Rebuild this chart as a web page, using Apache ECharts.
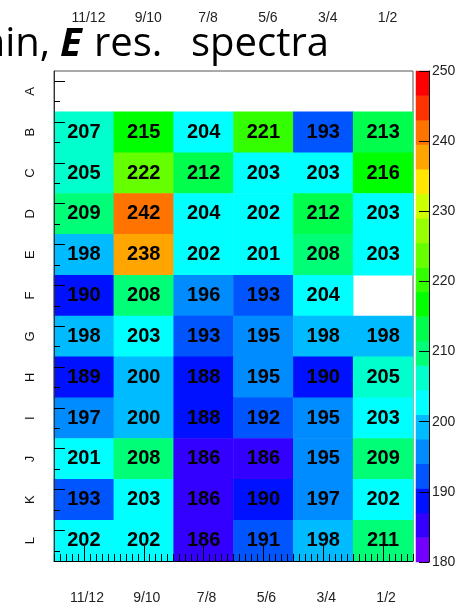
<!DOCTYPE html>
<html>
<head>
<meta charset="utf-8">
<script src="https://cdn.jsdelivr.net/npm/echarts@6/dist/echarts.min.js"></script>
<style>
html, body { margin: 0; padding: 0; background: #fff; }
#chart { width: 462px; height: 605px; }
</style>
</head>
<body>
<div id="chart"></div>
<script>
// Column and row labels of the map
const columns = ['11/12', '9/10', '7/8', '5/6', '3/4', '1/2'];
const rows = ['A', 'B', 'C', 'D', 'E', 'F', 'G', 'H', 'I', 'J', 'K', 'L'];

// Values per row, left to right (null = no entry)
const rowA = [null, null, null, null, null, null];
const rowB = [207, 215, 204, 221, 193, 213];
const rowC = [205, 222, 212, 203, 203, 216];
const rowD = [209, 242, 204, 202, 212, 203];
const rowE = [198, 238, 202, 201, 208, 203];
const rowF = [190, 208, 196, 193, 204, null];
const rowG = [198, 203, 193, 195, 198, 198];
const rowH = [189, 200, 188, 195, 190, 205];
const rowI = [197, 200, 188, 192, 195, 203];
const rowJ = [201, 208, 186, 186, 195, 209];
const rowK = [193, 203, 186, 190, 197, 202];
const rowL = [202, 202, 186, 191, 198, 211];

// Colour scale: 20 contour bands between 180 and 250
const zMin = 180;
const zMax = 250;
const zStep = 3.5;
const zTickStep = 10;
const palette = [
  '#7300ff', '#3300ff', '#0011ff', '#0055ff', '#008cff',
  '#00bbff', '#00ffff', '#00ffcc', '#00ff77', '#00ff4c',
  '#00ff00', '#33ff00', '#66ff00', '#99ff00', '#ccff00',
  '#ffe500', '#ffa500', '#ff7300', '#ff3300', '#ff0000'
];

// Tick positions of the frame (in axis units)
const yTickLong = [0.75, 1.75, 2.75, 3.75, 4.75, 5.75, 6.75, 7.75, 8.75, 9.75, 10.75, 11.75];
const yTickShort = [0.25, 1.25, 2.25, 3.25, 4.25, 5.25, 6.25, 7.25, 8.25, 9.25, 10.25, 11.25];

// Heading pieces, each with its own left edge
const headingParts = [
  { text: 'ain,', x: -17, bold: false },
  { text: 'E', x: 60, bold: true },
  { text: 'res.', x: 94, bold: false },
  { text: 'spectra', x: 191, bold: false }
];

const table = [rowA, rowB, rowC, rowD, rowE, rowF, rowG, rowH, rowI, rowJ, rowK, rowL];
const cells = [];
table.forEach((vals, r) => {
  vals.forEach((v, c) => {
    if (v !== null) cells.push([c, r, v]);
  });
});

const pieces = palette.map((color, i) => {
  const lo = zMin + i * zStep;
  const hi = lo + zStep;
  return i === palette.length - 1 ? { gte: lo, lte: hi, color } : { gte: lo, lt: hi, color };
});
const bandNames = palette.map((_, i) => 'b' + i);
const bandCells = palette.map((_, i) => [0, i, zMin + (i + 0.5) * zStep]);

const FONT = 'Liberation Sans';
const chart = echarts.init(document.getElementById('chart'), null, { renderer: 'canvas' });

chart.setOption({
  animation: false,
  backgroundColor: '#fff',
  graphic: headingParts.map(p => ({
    type: 'text',
    x: p.x,
    y: 45,
    z: 10,
    style: {
      text: p.text,
      fontFamily: 'Open Sans',
      fontSize: 40,
      fontWeight: p.bold ? 'bold' : 'normal',
      fontStyle: p.bold ? 'italic' : 'normal',
      fill: '#000',
      verticalAlign: 'middle'
    }
  })),
  grid: [
    { left: 54, top: 71, width: 359, height: 491, show: true, borderColor: '#555', borderWidth: 1, backgroundColor: '#fff' },
    { left: 416, top: 71, width: 13, height: 491 }
  ],
  xAxis: [
    {
      gridIndex: 0, type: 'category', data: columns, position: 'bottom', z: 5,
      axisLine: { show: true, lineStyle: { color: '#000', width: 1 } },
      axisTick: { show: true, inside: true, alignWithLabel: true, length: 15, lineStyle: { color: '#000' } },
      axisLabel: { margin: 30, fontSize: 14, color: '#222', fontFamily: FONT, padding: [0, 0, 0, 6] },
      splitLine: { show: false }
    },
    {
      gridIndex: 0, type: 'category', data: columns, position: 'top',
      axisLine: { show: false }, axisTick: { show: false },
      axisLabel: { margin: 46, fontSize: 14, color: '#222', fontFamily: FONT, padding: [0, 0, 0, 9] },
      splitLine: { show: false }
    },
    {
      gridIndex: 0, type: 'value', min: 0, max: 6, interval: 0.1, position: 'bottom', z: 5,
      axisLine: { show: false },
      axisTick: { show: true, inside: true, length: 7, lineStyle: { color: '#000' } },
      axisLabel: { show: false }, splitLine: { show: false }
    },
    { gridIndex: 1, type: 'category', data: ['z'], show: false }
  ],
  yAxis: [
    {
      gridIndex: 0, type: 'category', data: rows, inverse: true, position: 'left', z: 5,
      axisLine: { show: true, lineStyle: { color: '#333', width: 1 } },
      axisTick: { show: false },
      axisLabel: { rotate: 90, margin: 17, fontSize: 13, color: '#111', fontFamily: FONT },
      splitLine: { show: false }
    },
    {
      gridIndex: 0, type: 'value', min: 0, max: 12, position: 'left', z: 5,
      axisLine: { show: false }, axisLabel: { show: false }, splitLine: { show: false },
      axisTick: { show: true, inside: true, length: 11, customValues: yTickLong, lineStyle: { color: '#000' } }
    },
    {
      gridIndex: 0, type: 'value', min: 0, max: 12, position: 'left', z: 5,
      axisLine: { show: false }, axisLabel: { show: false }, splitLine: { show: false },
      axisTick: { show: true, inside: true, length: 6, customValues: yTickShort, lineStyle: { color: '#000' } }
    },
    { gridIndex: 1, type: 'category', data: bandNames, show: false },
    {
      gridIndex: 1, type: 'value', min: zMin, max: zMax, interval: zTickStep, position: 'right', z: 5,
      axisLine: { show: true, lineStyle: { color: '#000', width: 1 } },
      axisTick: { show: true, inside: true, length: 10, lineStyle: { color: '#000' } },
      axisLabel: { margin: 3, fontSize: 14, color: '#222', fontFamily: FONT },
      splitLine: { show: false }
    }
  ],
  visualMap: {
    type: 'piecewise', show: false, dimension: 2, seriesIndex: [0, 1], pieces
  },
  series: [
    {
      type: 'heatmap', xAxisIndex: 0, yAxisIndex: 0, data: cells,
      label: {
        show: true, fontSize: 20, fontWeight: 'bold', color: '#000', fontFamily: FONT,
        formatter: p => p.value[2]
      },
      emphasis: { disabled: true }
    },
    {
      type: 'heatmap', xAxisIndex: 3, yAxisIndex: 3, data: bandCells,
      emphasis: { disabled: true }
    }
  ]
});
</script>
</body>
</html>
